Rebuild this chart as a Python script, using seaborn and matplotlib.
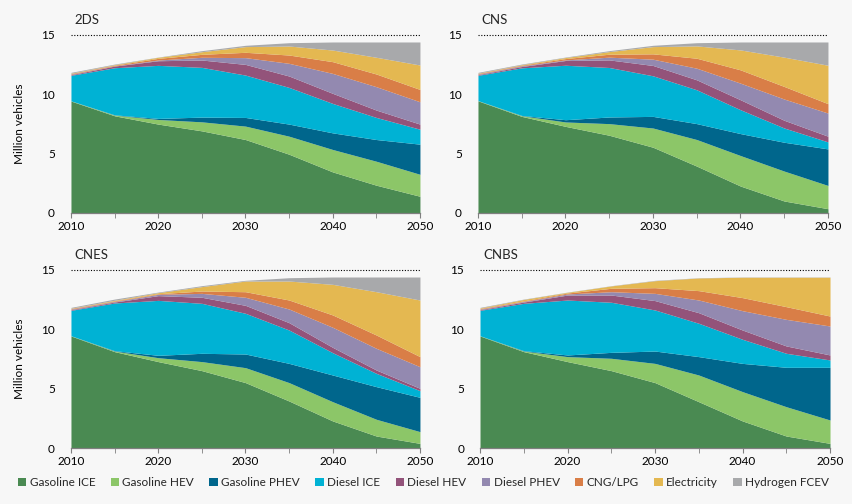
import numpy as np
import pandas as pd
import seaborn as sns
from matplotlib import pyplot as plt
from matplotlib.patches import Patch
from matplotlib.ticker import MultipleLocator

sns.set_style("white")
plt.rcParams['font.family'] = ['Lato', 'DejaVu Sans']

years = [2010, 2015, 2020, 2025, 2030, 2035, 2040, 2045, 2050]
techs = ["Gasoline ICE", "Gasoline HEV", "Gasoline PHEV", "Diesel ICE", "Diesel HEV",
         "Diesel PHEV", "CNG/LPG", "Electricity", "Hydrogen FCEV"]
colors = ["#4a8a52", "#8cc668", "#00668c", "#00b2d4", "#93537a",
          "#9389b0", "#d97e47", "#e4b851", "#a8a9ab"]

# million vehicles per technology, one list per scenario
ds2 = [
    [9.43, 8.19, 7.49, 6.92, 6.19, 4.95, 3.46, 2.34, 1.41],
    [0.02, 0.06, 0.39, 0.76, 1.13, 1.52, 1.89, 2.02, 1.85],
    [0.00, 0.02, 0.09, 0.40, 0.73, 1.02, 1.40, 1.83, 2.54],
    [2.15, 3.97, 4.47, 4.19, 3.57, 3.09, 2.48, 1.86, 1.26],
    [0.05, 0.14, 0.39, 0.62, 0.90, 0.96, 0.85, 0.62, 0.43],
    [0.05, 0.02, 0.06, 0.23, 0.57, 1.07, 1.68, 1.97, 1.88],
    [0.05, 0.05, 0.14, 0.25, 0.45, 0.70, 0.99, 1.07, 1.04],
    [0.03, 0.05, 0.09, 0.22, 0.48, 0.76, 0.98, 1.41, 2.06],
    [0.07, 0.05, 0.02, 0.09, 0.11, 0.28, 0.68, 1.29, 1.94],
]
cns = [
    [9.45, 8.14, 7.30, 6.55, 5.54, 3.95, 2.27, 1.01, 0.36],
    [0.02, 0.06, 0.37, 0.98, 1.62, 2.24, 2.57, 2.52, 1.96],
    [0.00, 0.02, 0.19, 0.56, 0.98, 1.34, 1.85, 2.43, 3.08],
    [2.13, 4.01, 4.59, 4.17, 3.42, 2.85, 2.01, 1.20, 0.59],
    [0.05, 0.11, 0.40, 0.64, 0.87, 0.84, 0.84, 0.65, 0.48],
    [0.05, 0.06, 0.05, 0.23, 0.53, 0.98, 1.40, 1.79, 1.95],
    [0.05, 0.05, 0.11, 0.25, 0.45, 0.84, 1.12, 1.06, 0.79],
    [0.03, 0.05, 0.09, 0.22, 0.61, 1.04, 1.68, 2.47, 3.24],
    [0.07, 0.05, 0.04, 0.08, 0.11, 0.27, 0.67, 1.28, 1.96],
]
cnes = [
    [9.44, 8.12, 7.28, 6.52, 5.51, 3.96, 2.28, 1.01, 0.39],
    [0.02, 0.05, 0.33, 0.76, 1.26, 1.55, 1.62, 1.41, 0.99],
    [0.00, 0.03, 0.20, 0.70, 1.15, 1.62, 2.25, 2.75, 2.89],
    [2.14, 4.02, 4.63, 4.21, 3.43, 2.81, 1.88, 1.12, 0.56],
    [0.05, 0.08, 0.40, 0.51, 0.67, 0.62, 0.45, 0.28, 0.20],
    [0.05, 0.05, 0.11, 0.33, 0.68, 1.15, 1.69, 1.83, 1.82],
    [0.05, 0.05, 0.05, 0.20, 0.47, 0.76, 1.04, 1.12, 0.85],
    [0.03, 0.05, 0.09, 0.37, 0.90, 1.60, 2.58, 3.65, 4.77],
    [0.07, 0.10, 0.05, 0.08, 0.06, 0.28, 0.62, 1.24, 1.94],
]
cnbs = [
    [9.44, 8.12, 7.28, 6.52, 5.51, 3.90, 2.28, 1.01, 0.39],
    [0.02, 0.05, 0.42, 1.04, 1.62, 2.25, 2.47, 2.47, 1.97],
    [0.00, 0.03, 0.14, 0.50, 1.04, 1.55, 2.38, 3.32, 4.44],
    [2.14, 3.99, 4.63, 4.22, 3.46, 2.81, 2.03, 1.18, 0.62],
    [0.05, 0.11, 0.42, 0.61, 0.79, 0.89, 0.78, 0.62, 0.42],
    [0.05, 0.05, 0.09, 0.28, 0.61, 1.07, 1.63, 2.24, 2.44],
    [0.05, 0.05, 0.08, 0.29, 0.48, 0.79, 1.10, 1.07, 0.84],
    [0.05, 0.12, 0.06, 0.20, 0.59, 1.07, 1.72, 2.48, 3.27],
    [0.05, 0.03, 0.02, 0.02, 0.03, 0.02, 0.02, 0.02, 0.02],
]
scenarios = {"2DS": ds2, "CNS": cns, "CNES": cnes, "CNBS": cnbs}

bg = "#f7f7f7"
fig = plt.figure(figsize=(8.52, 5.04), dpi=100, facecolor=bg)
# axes rectangles (left, bottom, width, height) in figure fractions
rects = [
    [0.0833, 0.5774, 0.4096, 0.3532],
    [0.5610, 0.5774, 0.4108, 0.3532],
    [0.0833, 0.1111, 0.4096, 0.3532],
    [0.5634, 0.1111, 0.4108, 0.3532],
]

for i, (name, vals) in enumerate(scenarios.items()):
    ax = fig.add_axes(rects[i])
    ax.set_facecolor(bg)
    df = pd.DataFrame(np.array(vals).T, index=years, columns=techs)
    ax.stackplot(df.index, df.T.values, colors=colors, linewidth=0)
    ax.set_xlim(2010, 2050)
    ax.set_ylim(0, 15)
    ax.axhline(15, color="black", linestyle=(0, (1, 1.5)), linewidth=0.8, clip_on=False)
    sns.despine(ax=ax, left=True, top=True, right=True)
    ax.spines['bottom'].set_color("#7f7f7f")
    ax.spines['bottom'].set_linewidth(0.9)
    ax.xaxis.set_major_locator(MultipleLocator(10))
    ax.xaxis.set_minor_locator(MultipleLocator(5))
    ax.set_yticks([0, 5, 10, 15])
    ax.tick_params(axis='x', which='both', bottom=True, length=3.5, color="#7f7f7f",
                   labelsize=8.5, pad=2, labelcolor="black")
    ax.tick_params(axis='y', left=False, labelsize=8.5, pad=8, labelcolor="black")
    ax.text(0.01, 1.085, name, transform=ax.transAxes, fontsize=9.5, va="center", ha="left")
    if i % 2 == 0:
        ax.set_ylabel("Million vehicles", fontsize=8.5, labelpad=12, color="black")

handles = [Patch(facecolor=c, edgecolor='none', label=t) for t, c in zip(techs, colors)]
fig.legend(handles=handles, loc="center", bbox_to_anchor=(0.497, 0.042), ncol=9,
           frameon=False, fontsize=8.5, handlelength=0.7, handleheight=0.7,
           handletextpad=0.3, columnspacing=1.3)

fig.savefig("out.png", dpi=100, facecolor=bg)
